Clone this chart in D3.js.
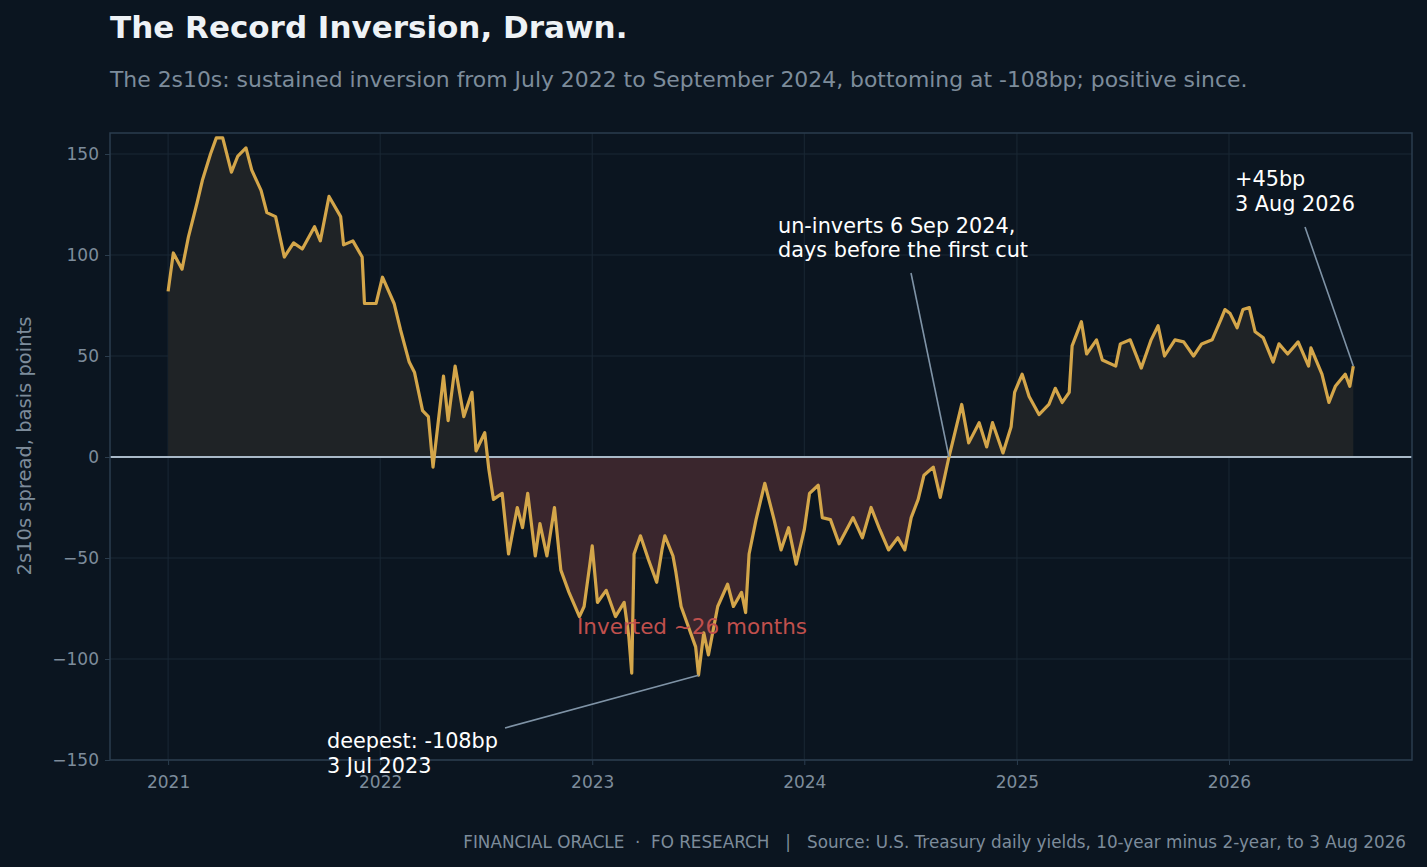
<!DOCTYPE html>
<html><head><meta charset="utf-8">
<script src="https://cdn.jsdelivr.net/npm/d3@7"></script>
<style>body{margin:0;background:#0b1520;}svg{display:block;font-family:"DejaVu Sans",sans-serif;}</style>
</head><body>
<svg id="c" width="1427" height="867"></svg>
<script>
const dates = ["2021-01-01","2021-01-10","2021-01-25","2021-02-05","2021-02-20","2021-03-01","2021-03-15","2021-03-25","2021-04-05","2021-04-20","2021-05-01","2021-05-15","2021-05-25","2021-06-10","2021-06-20","2021-07-05","2021-07-20","2021-08-05","2021-08-20","2021-09-10","2021-09-20","2021-10-05","2021-10-25","2021-10-30","2021-11-15","2021-12-01","2021-12-05","2021-12-25",
"2022-01-05","2022-01-25","2022-02-05","2022-02-20","2022-03-01","2022-03-15","2022-03-25","2022-04-02","2022-04-20","2022-04-28","2022-05-10","2022-05-25","2022-06-08","2022-06-15","2022-06-30","2022-07-07","2022-07-15","2022-07-30","2022-08-10","2022-08-25","2022-09-03","2022-09-12","2022-09-25","2022-10-03","2022-10-15","2022-10-28","2022-11-08","2022-11-22","2022-12-10","2022-12-18","2022-12-28",
"2023-01-01","2023-01-10","2023-01-25","2023-02-10","2023-02-25","2023-03-05","2023-03-10","2023-03-14","2023-03-25","2023-04-08","2023-04-22","2023-05-01","2023-05-06","2023-05-20","2023-05-25","2023-06-03","2023-06-18","2023-06-28","2023-07-03","2023-07-12","2023-07-20","2023-08-05","2023-08-22","2023-09-01","2023-09-15","2023-09-22","2023-09-28","2023-10-10","2023-10-25","2023-11-10","2023-11-22","2023-12-05","2023-12-18",
"2024-01-01","2024-01-10","2024-01-25","2024-02-01","2024-02-15","2024-03-01","2024-03-25","2024-04-10","2024-04-25","2024-05-10","2024-05-25","2024-06-10","2024-06-22","2024-07-03","2024-07-15","2024-07-25","2024-08-10","2024-08-22","2024-09-06","2024-09-12","2024-09-28","2024-10-10","2024-10-28","2024-11-10","2024-11-20","2024-12-08","2024-12-22","2024-12-28",
"2025-01-10","2025-01-22","2025-02-08","2025-02-25","2025-03-08","2025-03-20","2025-04-01","2025-04-06","2025-04-22","2025-05-01","2025-05-18","2025-05-28","2025-06-20","2025-06-28","2025-07-15","2025-08-03","2025-08-20","2025-09-01","2025-09-12","2025-09-30","2025-10-15","2025-11-01","2025-11-15","2025-12-03","2025-12-18","2025-12-25",
"2026-01-03","2026-01-15","2026-01-25","2026-02-05","2026-02-15","2026-03-01","2026-03-18","2026-03-28","2026-04-12","2026-04-30","2026-05-18","2026-05-22","2026-06-10","2026-06-22","2026-07-03","2026-07-20","2026-07-28","2026-08-03"];
const spread = [82,101,93,109,126,137,150,158,158,141,149,153,142,132,121,119,99,106,103,114,107,129,119,105,107,99,76,76,
89,76,63,47,42,23,20,-5,40,18,45,20,32,3,12,-6,-21,-18,-48,-25,-35,-18,-49,-33,-49,-25,-56,-67,-79,-74,-53,
-44,-72,-66,-79,-72,-89,-107,-48,-39,-51,-62,-46,-39,-49,-57,-74,-86,-94,-108,-87,-98,-74,-63,-74,-67,-77,-48,-31,-13,-31,-46,-35,-53,
-36,-18,-14,-30,-31,-43,-30,-40,-25,-36,-46,-40,-46,-30,-21,-9,-5,-20,0,7,26,7,17,5,17,2,15,32,
41,30,21,26,34,27,32,55,67,51,58,48,45,56,58,44,58,65,50,58,57,50,56,58,68,73,
71,64,73,74,62,59,47,56,51,57,45,54,41,27,35,41,35,45];
const yTicks = [-150,-100,-50,0,50,100,150];
const xTickYears = [2021,2022,2023,2024,2025,2026];

const parse = d3.timeParse("%Y-%m-%d");
const data = dates.map((d,i)=>({t:parse(d), v:spread[i]}));
const svg = d3.select("#c");
const L=110,R=1412,T=133,B=760;
const x = d3.scaleTime().domain([new Date(2020,8,23), new Date(2026,10,12)]).range([L,R]);
const y = d3.scaleLinear().domain([-150,160.4]).range([B,T]);

svg.append("rect").attr("width",1427).attr("height",867).attr("fill","#0b1520");
svg.append("g").selectAll("line").data(yTicks).join("line")
 .attr("x1",L).attr("x2",R).attr("y1",d=>y(d)).attr("y2",d=>y(d)).attr("stroke","#1a2834").attr("stroke-width",1);
svg.append("g").selectAll("line").data(xTickYears).join("line")
 .attr("x1",d=>x(new Date(d,0,1))).attr("x2",d=>x(new Date(d,0,1))).attr("y1",T).attr("y2",B).attr("stroke","#1a2834");

const defs = svg.append("defs");
defs.append("clipPath").attr("id","pos").append("rect").attr("x",L).attr("y",T).attr("width",R-L).attr("height",y(0)-T);
defs.append("clipPath").attr("id","neg").append("rect").attr("x",L).attr("y",y(0)).attr("width",R-L).attr("height",B-y(0));
const area = d3.area().x(d=>x(d.t)).y0(y(0)).y1(d=>y(d.v));
svg.append("path").datum(data).attr("d",area).attr("fill","#1f2326").attr("clip-path","url(#pos)");
svg.append("path").datum(data).attr("d",area).attr("fill","#3a262d").attr("clip-path","url(#neg)");

svg.append("line").attr("x1",L).attr("x2",R).attr("y1",y(0)).attr("y2",y(0)).attr("stroke","#a9b9c8").attr("stroke-width",2);
svg.append("path").datum(data).attr("d",d3.line().x(d=>x(d.t)).y(d=>y(d.v)))
 .attr("fill","none").attr("stroke","#d4a64a").attr("stroke-width",3.2).attr("stroke-linejoin","round");

svg.append("rect").attr("x",L).attr("y",T).attr("width",R-L).attr("height",B-T).attr("fill","none").attr("stroke","#2b3d4e").attr("stroke-width",1.5);

const ya = svg.append("g").attr("transform",`translate(${L},0)`).call(d3.axisLeft(y).tickValues(yTicks).tickSize(5).tickPadding(6).tickFormat(d=>d3.format("")(d).replace("-","−")));
const xa = svg.append("g").attr("transform",`translate(0,${B})`).call(d3.axisBottom(x).tickValues(xTickYears.map(d=>new Date(d,0,1))).tickSize(5).tickFormat(d3.timeFormat("%Y")));
[ya,xa].forEach(a=>{a.select(".domain").remove();a.selectAll("line").attr("stroke","#2b3d4e");a.selectAll("text").attr("fill","#7d8c9b").attr("font-size",17).attr("font-family","DejaVu Sans");});
xa.selectAll("text").attr("dy","1.15em");

const txt=(s,xx,yy,sz,fill,extra={})=>{const t=svg.append("text").attr("x",xx).attr("y",yy).attr("font-size",sz).attr("fill",fill).text(s);for(const k in extra)t.attr(k,extra[k]);return t;};
txt("The Record Inversion, Drawn.",110,38,31,"#eef2f6",{"font-weight":"bold"});
txt("The 2s10s: sustained inversion from July 2022 to September 2024, bottoming at -108bp; positive since.",110,87,21.9,"#7d8c9b");
txt("2s10s spread, basis points",0,0,19.5,"#7d8c9b",{"text-anchor":"middle","transform":"translate(31,446) rotate(-90)"});
txt("FINANCIAL ORACLE  ·  FO RESEARCH   |   Source: U.S. Treasury daily yields, 10-year minus 2-year, to 3 Aug 2026",1406,848,16.8,"#7d8c9b",{"text-anchor":"end","xml:space":"preserve"});

const ann=(x1,y1,t,v)=>svg.append("line").attr("x1",x1).attr("y1",y1).attr("x2",x(parse(t))).attr("y2",y(v)).attr("stroke","#7f93a6").attr("stroke-width",1.6);
ann(505,728,"2023-07-03",-108);
ann(911,273,"2024-09-06",0);
ann(1305,227,"2026-08-03",45);
const A=20.8;
txt("deepest: -108bp",327,748,A,"#ffffff"); txt("3 Jul 2023",327,773,A,"#ffffff");
txt("un-inverts 6 Sep 2024,",778,233,A,"#ffffff"); txt("days before the first cut",778,257,A,"#ffffff");
txt("+45bp",1235,186,A,"#ffffff"); txt("3 Aug 2026",1235,211,A,"#ffffff");
txt("Inverted ~26 months",692,634,21.5,"#c0504d",{"text-anchor":"middle"});
</script></body></html>
